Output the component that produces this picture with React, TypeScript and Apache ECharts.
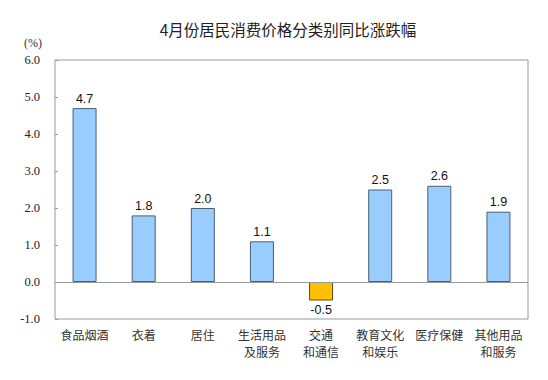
import React, { useEffect, useRef } from "react";
import * as echarts from "echarts";

const categories = [
  "食品烟酒",
  "衣着",
  "居住",
  "生活用品\n及服务",
  "交通\n和通信",
  "教育文化\n和娱乐",
  "医疗保健",
  "其他用品\n和服务",
];
const values = [4.7, 1.8, 2.0, 1.1, -0.5, 2.5, 2.6, 1.9];
const titleText = "4月份居民消费价格分类别同比涨跌幅";
const unitText = "(%)";

export default function App() {
  const ref = useRef<HTMLDivElement>(null);
  useEffect(() => {
    if (!ref.current) return;
    const chart = echarts.init(ref.current, undefined, { renderer: "svg" });
    chart.setOption({
      animation: false,
      backgroundColor: "#fff",
      graphic: [
        {
          type: "text",
          x: 288,
          y: 29,
          style: {
            text: titleText,
            fontFamily: "Noto Sans CJK SC",
            fontSize: 15.5,
            fill: "#222",
            align: "center",
            verticalAlign: "middle",
          },
        },
        {
          type: "text",
          x: 33,
          y: 43,
          style: {
            text: unitText,
            fontFamily: "Liberation Serif",
            fontSize: 12,
            fill: "#333",
            align: "center",
            verticalAlign: "middle",
          },
        },
      ],
      grid: {
        left: 55,
        right: 20,
        top: 60,
        bottom: 61,
        show: true,
        borderColor: "#999",
        borderWidth: 1,
      },
      xAxis: {
        type: "category",
        data: categories,
        axisLine: { show: false },
        axisTick: { show: false },
        axisLabel: {
          interval: 0,
          margin: 7,
          fontFamily: "Noto Sans CJK SC",
          fontSize: 12,
          lineHeight: 17,
          color: "#333",
        },
      },
      yAxis: {
        type: "value",
        min: -1,
        max: 6,
        interval: 1,
        splitLine: { show: false },
        axisLine: { show: false },
        axisTick: { show: true, inside: true, length: 3, lineStyle: { color: "#999" } },
        axisLabel: {
          margin: 15,
          formatter: (v: number) => v.toFixed(1),
          fontFamily: "Liberation Serif",
          fontSize: 12.5,
          color: "#222",
        },
      },
      series: [
        {
          type: "bar",
          barWidth: 24,
          data: values.map((v) => ({
            value: v,
            itemStyle: {
              color: v >= 0 ? "#99CCFF" : "#FFC000",
              borderColor: v >= 0 ? "#4A5F74" : "#5A4A20",
              borderWidth: 1,
            },
            label: { position: v >= 0 ? "top" : "bottom" },
          })),
          label: {
            show: true,
            formatter: (p: any) => Number(p.value).toFixed(1),
            fontFamily: "Liberation Sans",
            fontSize: 12.5,
            color: "#111",
            distance: 3,
          },
          markLine: {
            silent: true,
            symbol: "none",
            label: { show: false },
            lineStyle: { color: "#999", type: "solid", width: 1 },
            data: [{ yAxis: 0 }],
          },
        },
      ],
    });
    return () => chart.dispose();
  }, []);
  return <div ref={ref} style={{ width: 548, height: 380, margin: -8 }} />;
}
